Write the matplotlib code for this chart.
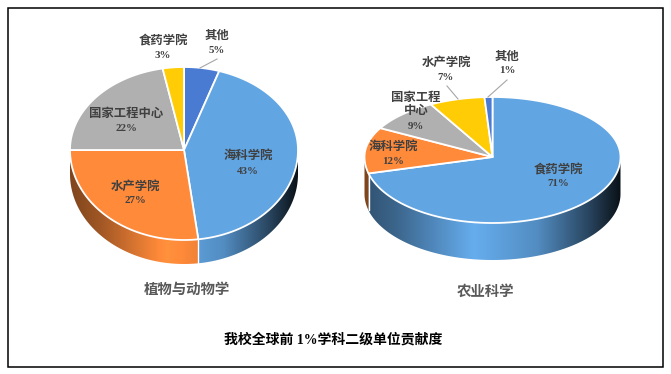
import numpy as np
import matplotlib
matplotlib.use("Agg")
import matplotlib.pyplot as plt
from matplotlib.patches import Polygon, Rectangle

plt.rcParams['font.family'] = ['Liberation Serif', 'Noto Sans CJK SC']

# 左边的饼 植物与动物学
left_names = ["其他", "海科学院", "水产学院", "国家工程中心", "食药学院"]
left_values = [5, 43, 27, 22, 3]
# 右边的饼 农业科学
right_names = ["食药学院", "海科学院", "国家工程\n中心", "水产学院", "其他"]
right_values = [71, 12, 9, 7, 1]

left_title = "植物与动物学"
right_title = "农业科学"
main_title = "我校全球前 1%学科二级单位贡献度"

left_colors = ["#4A7BD3", "#61A5E3", "#FF8A3A", "#B0B0B0", "#FFCC05"]
right_colors = ["#61A5E3", "#FF8A3A", "#B0B0B0", "#FFCC05", "#4A7BD3"]

W, H = 671, 374
fig = plt.figure(figsize=(W / 100, H / 100), dpi=100)
ax = fig.add_axes([0, 0, 1, 1])
ax.axis("off")


def pt(cx, cy, rx, top, bot, a):
    # a: 从12点钟起顺时针的角度
    x = cx + rx * np.sin(a)
    c = np.cos(a)
    y = cy - np.where(c > 0, top, bot) * c
    return x, y


def shade(col, t):
    f = np.interp(t, [-1, -0.75, -0.15, 0.35, 0.75, 1], [0.5, 0.62, 1.05, 0.85, 0.42, 0.1])
    rgb = np.array(matplotlib.colors.to_rgb(col))
    return np.clip(rgb[None, :] * f[:, None], 0, 1)


def pie3d(values, cols, cx, cy, rx, top, bot, depth):
    total = float(sum(values))
    edges = np.cumsum([0] + list(values)) / total * 2 * np.pi
    # 侧面 用渐变图片裁出来
    for i, col in enumerate(cols):
        lo, hi = max(edges[i], np.pi / 2), min(edges[i + 1], 3 * np.pi / 2)
        if hi <= lo:
            continue
        aa = np.linspace(lo, hi, 200)
        xs, ys = pt(cx, cy, rx, top, bot, aa)
        verts = list(zip(xs, ys)) + list(zip(xs[::-1], ys[::-1] + depth))
        x0, x1 = xs.min() - 1, xs.max() + 1
        grad = np.linspace(x0, x1, 300)
        img = shade(col, (grad - cx) / rx)[None, :, :]
        im = ax.imshow(img, extent=(x0, x1, ys.max() + depth + 1, ys.min() - 1), aspect="auto",
                       interpolation="bilinear", zorder=2)
        im.set_clip_path(Polygon(verts, closed=True, transform=ax.transData))
        if edges[i] > np.pi / 2:
            ax.plot([xs[0], xs[0]], [ys[0], ys[0] + depth], color="white", lw=1, zorder=3)
    # 顶面
    for i, col in enumerate(cols):
        aa = np.linspace(edges[i], edges[i + 1], 200)
        xs, ys = pt(cx, cy, rx, top, bot, aa)
        verts = [(cx, cy)] + list(zip(xs, ys))
        ax.add_patch(Polygon(verts, closed=True, fc=col, ec="white", lw=1.3,
                             joinstyle="round", zorder=4))


pie3d(left_values, left_colors, 184, 150, 114, 83, 90, 24)
pie3d(right_values, right_colors, 492.5, 157, 128, 60, 66, 37)

# 标签位置 (名称x, 名称y, 百分比y)
left_pos = [(217, 36, 50), (248, 156, 171), (135, 187, 200), (126, 114, 128), (163, 41, 55)]
right_pos = [(558, 170, 183), (393, 147, 161), (416, 104.5, 126), (446, 63, 77), (507, 57, 70)]


def put_labels(names, values, pos):
    for name, v, (x, y, yp) in zip(names, values, pos):
        ax.text(x, y, name, ha="center", va="center", fontsize=8.9, fontweight="bold",
                color="#404040", linespacing=1.15, zorder=6)
        ax.text(x, yp, "%d%%" % v, ha="center", va="center", fontsize=7.8, fontweight="bold",
                color="#404040", zorder=6)


put_labels(left_names, left_values, left_pos)
put_labels(right_names, right_values, right_pos)

# 引线
ax.plot([200, 217], [68, 59], color="#A6A6A6", lw=0.8, zorder=5)
ax.plot([488, 507], [97, 80], color="#A6A6A6", lw=0.8, zorder=5)
ax.plot([447, 458], [86, 99], color="#A6A6A6", lw=0.8, zorder=5)

ax.text(187, 290, left_title, ha="center", va="center", fontsize=10.4, fontweight="bold", color="#595959", zorder=6)
ax.text(486, 292, right_title, ha="center", va="center", fontsize=10.4, fontweight="bold", color="#595959", zorder=6)
ax.text(333, 340, main_title, ha="center", va="center", fontsize=10, fontweight="bold", color="black", zorder=6)

ax.add_patch(Rectangle((7.5, 7.5), 655, 359.5, fc="none", ec="black", lw=1.1, zorder=7))

ax.set_xlim(0, W)
ax.set_ylim(H, 0)
fig.savefig("out.png", dpi=100)
